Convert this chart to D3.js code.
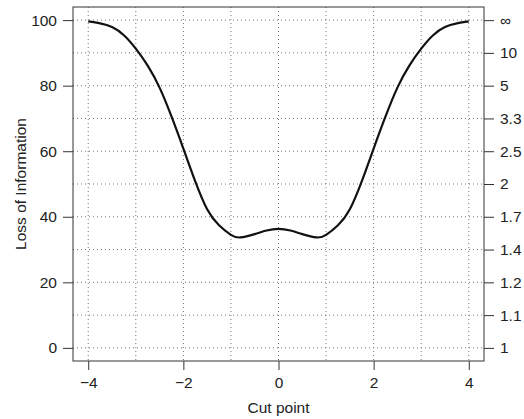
<!DOCTYPE html>
<html>
<head>
<meta charset="utf-8">
<script src="https://cdnjs.cloudflare.com/ajax/libs/d3/7.8.5/d3.min.js"></script>
<style>
    body { margin: 0; background: #fff; }
    text { font-family: "Liberation Sans", Arial, sans-serif; fill: #222; }
</style>
</head>
<body>
<div id="chart-area"></div>
<script>
// curve (symmetric around 0)
var cutPoints = [-4, -3.75, -3.5, -3.25, -3, -2.75, -2.5, -2.25, -2, -1.75, -1.5, -1.25, -1, -0.8, -0.5, -0.25,
                 0, 0.25, 0.5, 0.8, 1, 1.25, 1.5, 1.75, 2, 2.25, 2.5, 2.75, 3, 3.25, 3.5, 3.75, 4];
var lossValues = [99.6, 99.0, 97.9, 95.4, 91.3, 86.1, 79.4, 70.6, 60.8, 50.8, 42.3, 37.4, 34.5, 33.7, 34.7, 35.8,
                  36.3, 35.8, 34.7, 33.7, 34.5, 37.4, 42.3, 50.8, 60.8, 70.6, 79.4, 86.1, 91.3, 95.4, 97.9, 99.0, 99.6];

var xTicks = [-4, -2, 0, 2, 4];
var leftTicks = [0, 20, 40, 60, 80, 100];
var rightTicks = [0, 10, 20, 30, 40, 50, 60, 70, 80, 90, 100];
var rightLabels = ["1", "1.1", "1.2", "1.4", "1.7", "2", "2.5", "3.3", "5", "10", "\u221E"];
var xGrid = [-4, -3, -2, -1, 0, 1, 2, 3, 4];
var yGrid = [0, 10, 20, 30, 40, 50, 60, 70, 80, 90, 100];

var margin = { left: 73, right: 40, top: 7, bottom: 58 };
var width = 524 - margin.left - margin.right;
var height = 419 - margin.top - margin.bottom;

var svg = d3.select("#chart-area")
    .append("svg")
        .attr("width", 524)
        .attr("height", 419);

var g = svg.append("g")
    .attr("transform", "translate(" + margin.left + "," + margin.top + ")");

var x = d3.scaleLinear()
    .domain([-4.32, 4.32])
    .range([0, width]);

var y = d3.scaleLinear()
    .domain([-4, 104])
    .range([height, 0]);

// grid
g.selectAll(".vgrid")
    .data(xGrid)
    .enter().append("line")
        .attr("class", "vgrid")
        .attr("x1", function(d){ return x(d); })
        .attr("x2", function(d){ return x(d); })
        .attr("y1", 0)
        .attr("y2", height)
        .attr("stroke", "#777")
        .attr("stroke-dasharray", "1,3");

g.selectAll(".hgrid")
    .data(yGrid)
    .enter().append("line")
        .attr("class", "hgrid")
        .attr("y1", function(d){ return y(d); })
        .attr("y2", function(d){ return y(d); })
        .attr("x1", 0)
        .attr("x2", width)
        .attr("stroke", "#777")
        .attr("stroke-dasharray", "1,3");

// axes
var xAxisCall = d3.axisBottom(x)
    .tickValues(xTicks)
    .tickSize(9)
    .tickPadding(7)
    .tickFormat(function(d){ return d < 0 ? "\u2212" + Math.abs(d) : d; });

g.append("g")
    .attr("class", "x axis")
    .attr("transform", "translate(0," + height + ")")
    .call(xAxisCall);

var yAxisCall = d3.axisLeft(y)
    .tickValues(leftTicks)
    .tickSize(10)
    .tickPadding(6);

g.append("g")
    .attr("class", "y axis")
    .call(yAxisCall);

var y2AxisCall = d3.axisRight(y)
    .tickValues(rightTicks)
    .tickSize(10)
    .tickPadding(6)
    .tickFormat(function(d, i){ return rightLabels[i]; });

g.append("g")
    .attr("class", "y2 axis")
    .attr("transform", "translate(" + width + ",0)")
    .call(y2AxisCall);

g.selectAll(".axis .domain").remove();
g.selectAll(".axis line").attr("stroke", "#333");
g.selectAll(".axis text")
    .attr("font-size", "15.5px")
    .attr("fill", "#222");

// frame
g.append("rect")
    .attr("width", width)
    .attr("height", height)
    .attr("fill", "none")
    .attr("stroke", "#333")
    .attr("stroke-width", 1);

// curve
var line = d3.line()
    .x(function(d, i){ return x(cutPoints[i]); })
    .y(function(d){ return y(d); })
    .curve(d3.curveNatural);

g.append("path")
    .datum(lossValues)
    .attr("d", line)
    .attr("fill", "none")
    .attr("stroke", "#111")
    .attr("stroke-width", 2.2);

// labels
g.append("text")
    .attr("x", width / 2)
    .attr("y", height + 52)
    .attr("font-size", "15.5px")
    .attr("text-anchor", "middle")
    .text("Cut point");

g.append("text")
    .attr("transform", "rotate(-90)")
    .attr("x", -(height / 2))
    .attr("y", -47)
    .attr("font-size", "15.5px")
    .attr("text-anchor", "middle")
    .text("Loss of Information");
</script>
</body>
</html>
